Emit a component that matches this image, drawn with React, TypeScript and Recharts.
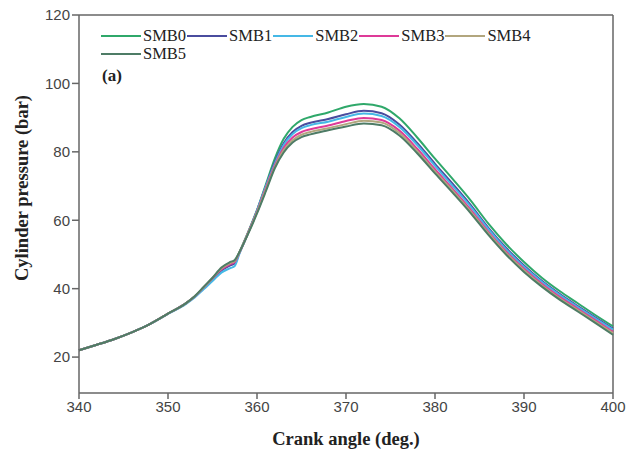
import { Line, LineChart, ReferenceLine, XAxis, YAxis } from "recharts"

const angles = [
  340, 342, 344, 346, 348, 350, 352, 353, 354, 355, 356, 357, 357.5, 358, 359, 360, 361, 362, 363, 364,
  365, 366, 368, 370, 372, 374, 376, 378, 380, 382, 384, 386, 388, 390, 392, 394, 396, 398, 400,
]

const smb0 = [
  22.0, 23.6, 25.3, 27.3, 29.7, 32.7, 35.7, 37.7, 40.2, 42.8, 45.5, 47.0, 47.6, 50.5, 56.5, 63.0, 70.5, 78.0, 83.8, 87.3,
  89.3, 90.2, 91.5, 93.2, 94.0, 93.2, 89.8, 84.2, 78.0, 72.0, 65.8, 59.0, 53.0, 47.8, 43.2, 39.3, 35.8, 32.3, 29.0,
]
const smb1 = [
  22.0, 23.6, 25.3, 27.3, 29.7, 32.7, 35.7, 37.7, 40.2, 42.8, 45.3, 46.8, 47.4, 50.3, 56.3, 62.8, 70.0, 77.0, 82.5, 85.8,
  87.6, 88.5, 89.6, 91.0, 92.0, 91.3, 88.0, 82.6, 76.5, 70.6, 64.5, 57.8, 51.9, 46.8, 42.3, 38.5, 35.0, 31.6, 28.3,
]
const smb2 = [
  22.0, 23.6, 25.3, 27.3, 29.7, 32.6, 35.5, 37.4, 39.8, 42.2, 44.7, 46.0, 46.6, 50.0, 56.2, 62.8, 70.0, 76.5, 82.0, 85.2,
  86.9, 87.8, 88.8, 90.2, 91.2, 90.5, 87.3, 82.0, 75.9, 70.0, 64.0, 57.4, 51.5, 46.4, 42.0, 38.2, 34.7, 31.3, 28.0,
]
const smb3 = [
  22.0, 23.6, 25.3, 27.3, 29.7, 32.7, 35.7, 37.7, 40.3, 43.0, 45.6, 47.2, 47.8, 50.4, 56.3, 62.5, 69.5, 76.0, 81.2, 84.2,
  85.8, 86.6, 87.7, 89.0, 89.9, 89.3, 86.2, 80.9, 74.9, 69.1, 63.1, 56.6, 50.8, 45.8, 41.4, 37.6, 34.2, 30.8, 27.4,
]
const smb4 = [
  22.0, 23.6, 25.3, 27.3, 29.7, 32.7, 35.7, 37.8, 40.4, 43.1, 45.9, 47.5, 48.1, 50.5, 56.2, 62.3, 69.0, 75.6, 80.5, 83.4,
  85.0, 85.8, 86.9, 88.1, 89.1, 88.6, 85.5, 80.2, 74.3, 68.6, 62.6, 56.2, 50.4, 45.4, 41.0, 37.2, 33.8, 30.4, 27.0,
]
const smb5 = [
  22.0, 23.6, 25.3, 27.3, 29.7, 32.7, 35.7, 37.8, 40.5, 43.2, 46.2, 47.8, 48.4, 50.6, 56.0, 62.0, 68.5, 75.2, 79.8, 82.7,
  84.3, 85.1, 86.3, 87.4, 88.3, 87.8, 84.8, 79.6, 73.7, 68.0, 62.1, 55.7, 49.9, 44.9, 40.6, 36.8, 33.4, 30.0, 26.5,
]

const xTicks = [340, 350, 360, 370, 380, 390, 400]
const yTicks = [20, 40, 60, 80, 100, 120]

const series = [
  { key: "SMB0", values: smb0, color: "#2fa86a" },
  { key: "SMB1", values: smb1, color: "#4a4c9e" },
  { key: "SMB2", values: smb2, color: "#45b8e6" },
  { key: "SMB3", values: smb3, color: "#de3a98" },
  { key: "SMB4", values: smb4, color: "#b2a67e" },
  { key: "SMB5", values: smb5, color: "#4e7c66" },
]

const data = angles.map((a, i) => {
  const row: Record<string, number> = { angle: a }
  series.forEach((s) => {
    row[s.key] = s.values[i]
  })
  return row
})

const serif = '"Liberation Serif", "Times New Roman", serif'
const sans = '"Liberation Sans", Arial, sans-serif'
const axisColor = "#666"
const titleStyle = { fontFamily: serif, fontWeight: "bold", fontSize: 18.5, fill: "#222" }

// legend sits inside the plot frame, top-left, wrapping after SMB4
function LegendBox() {
  return (
    <div
      style={{
        position: "absolute",
        left: 101,
        top: 27,
        display: "flex",
        flexWrap: "wrap",
        width: 470,
        fontFamily: serif,
        fontSize: 16.5,
        color: "#222",
        lineHeight: "18px",
      }}
    >
      {series.map((s) => (
        <div key={s.key} style={{ display: "flex", alignItems: "center" }}>
          <div style={{ width: 40, height: 2, background: s.color, marginRight: 2 }} />
          <span style={{ marginRight: 1 }}>{s.key}</span>
        </div>
      ))}
    </div>
  )
}

export default function App() {
  return (
    <div style={{ position: "fixed", left: 0, top: 0, width: 627, height: 454, background: "#fff" }}>
      <LineChart width={627} height={454} data={data} margin={{ top: 15, right: 14, bottom: 0, left: 0 }}>
        <XAxis
          dataKey="angle"
          type="number"
          domain={[340, 400]}
          ticks={xTicks}
          height={61}
          tickSize={6}
          tickMargin={2}
          stroke={axisColor}
          strokeWidth={1.5}
          tick={{ fontSize: 15, fill: "#444", fontFamily: sans }}
          label={{ value: "Crank angle (deg.)", position: "insideBottom", offset: 9, style: titleStyle }}
        />
        <YAxis
          type="number"
          domain={[9.5, 120]}
          ticks={yTicks}
          width={79}
          tickSize={7}
          tickMargin={2}
          stroke={axisColor}
          strokeWidth={1.5}
          tick={{ fontSize: 15, fill: "#444", fontFamily: sans }}
          label={{
            content: () => (
              <text
                x={28}
                y={188}
                transform="rotate(-90 28 188)"
                textAnchor="middle"
                style={titleStyle}
              >
                Cylinder pressure (bar)
              </text>
            ),
          }}
        />
        <ReferenceLine y={120} stroke={axisColor} strokeWidth={1.5} />
        <ReferenceLine x={400} stroke={axisColor} strokeWidth={1.5} />
        {series.map((s) => (
          <Line
            key={s.key}
            type="monotone"
            dataKey={s.key}
            stroke={s.color}
            strokeWidth={2}
            dot={false}
            isAnimationActive={false}
          />
        ))}
      </LineChart>
      <LegendBox />
      <div
        style={{
          position: "absolute",
          left: 102,
          top: 66,
          fontFamily: serif,
          fontWeight: "bold",
          fontSize: 17,
          color: "#222",
        }}
      >
        (a)
      </div>
    </div>
  )
}
